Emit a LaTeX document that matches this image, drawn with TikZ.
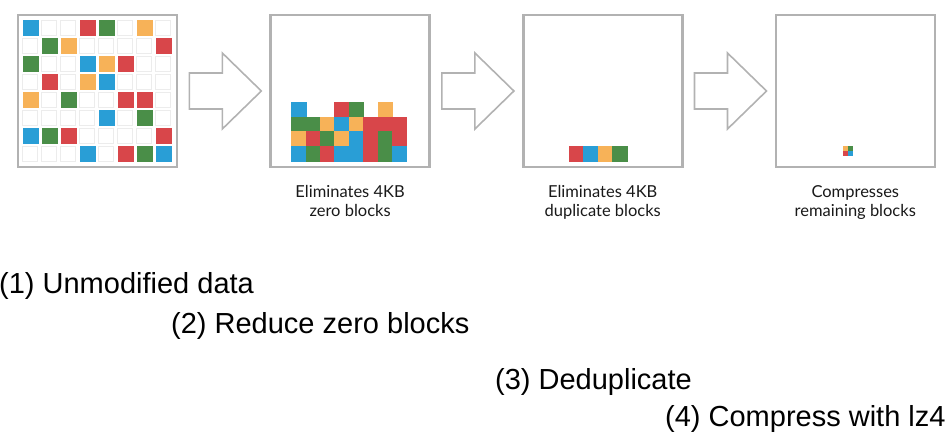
\documentclass[tikz,border=0pt]{standalone}
\usepackage{fontspec}
\setmainfont{Liberation Sans}
\newfontfamily\capfont{Lato}
\usetikzlibrary{positioning,calc}
\definecolor{blkblue}{RGB}{41,158,214}
\definecolor{blkgreen}{RGB}{74,142,72}
\definecolor{blkred}{RGB}{216,70,74}
\definecolor{blkorange}{RGB}{247,178,88}
\definecolor{framegray}{RGB}{178,178,178}
\definecolor{cellgray}{RGB}{236,236,236}

\begin{document}
\begin{tikzpicture}[
  x=1pt, y=-1pt,
  panel/.style   = {draw=framegray, line width=2.6pt, minimum width=159pt,
                    minimum height=152pt, inner sep=0pt},
  blockarrow/.style = {draw=framegray, line width=1.6pt, line join=miter},
  caption/.style = {font=\capfont\fontsize{16.5}{19}\selectfont, align=center,
                    inner sep=0pt, text=black!90},
  stage/.style   = {font=\fontsize{29}{34}\selectfont, anchor=base west,
                    inner sep=0pt},
  cellB/.style = {fill=blkblue, draw=blkblue, line width=0.2pt},
  cellG/.style = {fill=blkgreen, draw=blkgreen, line width=0.2pt},
  cellR/.style = {fill=blkred, draw=blkred, line width=0.2pt},
  cellO/.style = {fill=blkorange, draw=blkorange, line width=0.2pt},
  cellw/.style = {draw=cellgray, line width=0.8pt},
  celln/.style = {}
]
\useasboundingbox (0,0) rectangle (950,434);

\node[panel] (raw) at (97.5,91) {};
\node[panel, right=91pt of raw] (nozero) {};
\node[panel, right=91pt of nozero] (dedup) {};
\node[panel, right=91pt of dedup] (packed) {};

\foreach \src in {raw,nozero,dedup}
  \draw[blockarrow] ($(\src.east)+(11,-18)$) -- ++(33,0) -- ++(0,-20)
        -- ++(39,38) -- ++(-39,38) -- ++(0,-20) -- ++(-33,0) -- cycle;

\begin{scope}[shift={(raw.north west)}]
  \foreach \row [count=\r] in {{B,w,w,R,G,w,O,w},{w,G,O,w,w,w,w,R},
      {G,w,w,B,O,R,w,w},{w,R,w,O,B,w,w,w},{O,w,G,w,w,R,R,w},
      {w,w,w,w,B,w,G,w},{B,G,R,w,w,w,w,R},{w,w,w,B,w,R,G,B}}
    \foreach \c [count=\k] in \row
      \path[cell\c] (6+19*\k-19, 6.5+18*\r-18) rectangle ++(15,15);
\end{scope}

\begin{scope}[shift={(nozero.north west)}]
  \foreach \row [count=\r] in {{B,n,n,R,G,n,O,n},{G,G,O,B,O,R,R,R},
      {O,R,G,O,B,R,G,R},{B,G,R,B,B,R,G,B}}
    \foreach \c [count=\k] in \row
      \path[cell\c] (22+14.4*\k-14.4, 88.5+14.6*\r-14.6) rectangle ++(14.4,14.6);
\end{scope}

\begin{scope}[shift={(dedup.north west)}]
  \foreach \c [count=\k] in {R,B,O,G}
    \path[cell\c] (47+14.5*\k-14.5, 132) rectangle ++(14.5,15);
\end{scope}

\begin{scope}[shift={(packed.north west)}]
  \path[cellO] (69,132.5) rectangle ++(4.5,4.5);
  \path[cellG] (73.5,132.5) rectangle ++(4.5,4.5);
  \path[cellR] (69,137) rectangle ++(4.5,4.5);
  \path[cellB] (73.5,137) rectangle ++(4.5,4.5);
\end{scope}

\node[caption, below=17pt of nozero] (nozerocap) {Eliminates 4KB\\zero blocks};
\node[caption, below=17pt of dedup] (dedupcap) {Eliminates 4KB\\duplicate blocks};
\node[caption, below=17pt of packed] (packedcap) {Compresses\\remaining blocks};

\node[stage] (rawtext) at (-1,293) {(1) Unmodified data};
\node[stage] (nozerotext) at (171,333) {(2) Reduce zero blocks};
\node[stage] (deduptext) at (495,389) {(3) Deduplicate};
\node[stage] (packedtext) at (665,426) {(4) Compress with lz4};

\end{tikzpicture}
\end{document}
